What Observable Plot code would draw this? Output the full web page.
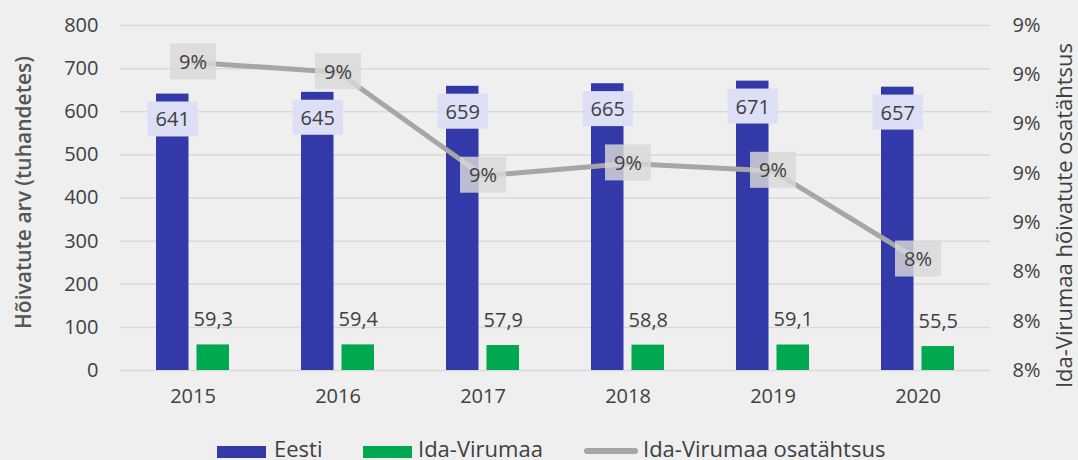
<!DOCTYPE html>
<html><head><meta charset="utf-8">
<script src="https://cdn.jsdelivr.net/npm/d3@7"></script>
<script src="https://cdn.jsdelivr.net/npm/@observablehq/plot@0.6"></script>
<style>
html,body{margin:0;padding:0;}
body{background:#efefef;font-family:"Open Sans",sans-serif;width:1078px;height:460px;overflow:hidden;position:relative;color:#404040;}
#chart svg{display:block;}
.lg{position:absolute;}
.lgt{position:absolute;font-size:22px;line-height:22px;top:437px;white-space:nowrap;color:#404040;}
</style></head><body>
<div id="chart"></div>
<div id="legend"></div>
<script>
const years = ["2015", "2016", "2017", "2018", "2019", "2020"];
const eesti = [641, 645, 659, 665, 671, 657];
const idaVirumaa = [59.3, 59.4, 57.9, 58.8, 59.1, 55.5];
const osatahtsus = [9.25, 9.21, 8.79, 8.84, 8.81, 8.45]; // %
const leftTicks = [0, 100, 200, 300, 400, 500, 600, 700, 800];
const rightTicks = [8.0, 8.2, 8.4, 8.6, 8.8, 9.0, 9.2, 9.4];
const seriesNames = ["Eesti", "Ida-Virumaa", "Ida-Virumaa osatähtsus"];
const colors = ["#3339a8", "#00a84f", "#a6a6a6"];
const leftTitle = "Hõivatute arv (tuhandetes)";
const rightTitle = "Ida-Virumaa hõivatute osatähtsus";

const leftMax = leftTicks[leftTicks.length - 1];
const rMin = rightTicks[0], rMax = rightTicks[rightTicks.length - 1];
const toLeft = p => (p - rMin) / (rMax - rMin) * leftMax;
const fromLeft = v => rMin + v / leftMax * (rMax - rMin);

const rows = years.map((y, i) => ({
  year: y, eesti: eesti[i], ida: idaVirumaa[i], share: osatahtsus[i], shareY: toLeft(osatahtsus[i])
}));

const font = '"Open Sans", sans-serif';
const chart = Plot.plot({
  width: 1078, height: 430,
  marginLeft: 120, marginRight: 88, marginTop: 25, marginBottom: 60,
  style: {background: "transparent", fontFamily: font, fontSize: "20px", color: "#404040", overflow: "visible"},
  x: {domain: years, type: "band", paddingInner: 0.497, paddingOuter: 0.2485, label: null},
  y: {domain: [0, leftMax], label: null},
  marks: [
    Plot.gridY(leftTicks, {stroke: "#d9d9d9", strokeOpacity: 1, strokeWidth: 1.5}),
    Plot.barY(rows, {x: "year", y: "eesti", fill: colors[0], insetRight: 40.5}),
    Plot.barY(rows, {x: "year", y: "ida", fill: colors[1], insetLeft: 40.5}),
    Plot.text(rows, {x: "year", y: "eesti", text: d => String(d.eesti), dx: -20.25, dy: 26, fill: "#404040", fontSize: 20, className: "lbl-eesti"}),
    Plot.text(rows, {x: "year", y: "ida", text: d => d.ida.toFixed(1).replace(".", ","), dx: 20.25, dy: -25, fill: "#404040", fontSize: 20}),
    Plot.line(rows, {x: "year", y: "shareY", stroke: colors[2], strokeWidth: 5}),
    Plot.text(rows, {x: "year", y: "shareY", text: d => Math.round(d.share) + "%", fill: "#404040", fontSize: 20, className: "lbl-share"}),
    Plot.axisX({tickSize: 0, tickPadding: 18, fontSize: 20, label: null}),
    Plot.axisY(leftTicks, {tickSize: 0, tickPadding: 22, fontSize: 20, label: null}),
    Plot.axisY(rightTicks.map(toLeft), {anchor: "right", tickSize: 0, tickPadding: 22, fontSize: 20, label: null,
      tickFormat: d => Math.round(fromLeft(d)) + "%"})
  ]
});
document.getElementById("chart").append(chart);

// label background boxes
const NS = "http://www.w3.org/2000/svg";
for (const [cls, fill, padX, h] of [["lbl-eesti", "#dcdff5", 8, 35], ["lbl-share", "rgba(217,217,217,0.82)", 9, 36]]) {
  chart.querySelectorAll(`g.${cls} text`).forEach(t => {
    const b = t.getBBox();
    const r = document.createElementNS(NS, "rect");
    r.setAttribute("x", b.x - padX);
    r.setAttribute("y", b.y + b.height / 2 - h / 2);
    r.setAttribute("width", b.width + 2 * padX);
    r.setAttribute("height", h);
    r.setAttribute("fill", fill);
    if (t.getAttribute("transform")) r.setAttribute("transform", t.getAttribute("transform"));
    t.parentNode.insertBefore(r, t);
  });
}

// axis titles
const svg = d3.select(chart);
svg.append("text").attr("transform", "translate(22.5,192.5) rotate(-90)")
  .attr("text-anchor", "middle").attr("dominant-baseline", "central")
  .attr("fill", "#555555").style("font-size", "21px").style("font-weight", "600").style("font-family", font).text(leftTitle);
svg.append("text").attr("transform", "translate(1063,215.5) rotate(-90)")
  .attr("text-anchor", "middle").attr("dominant-baseline", "central")
  .attr("fill", "#404040").style("font-size", "22px").style("font-family", font).text(rightTitle);

// legend
const lg = document.getElementById("legend");
const items = [
  {sw: {left: 217, top: 446, width: 49, height: 12}, tx: 274},
  {sw: {left: 363, top: 446, width: 49, height: 12}, tx: 418},
  {sw: {left: 584, top: 448, width: 54, height: 5.5, radius: 3}, tx: 643}
];
items.forEach((it, i) => {
  const s = document.createElement("div");
  s.className = "lg";
  Object.assign(s.style, {left: it.sw.left + "px", top: it.sw.top + "px", width: it.sw.width + "px", height: it.sw.height + "px", background: colors[i], borderRadius: (it.sw.radius || 0) + "px"});
  lg.append(s);
  const t = document.createElement("div");
  t.className = "lgt";
  t.style.left = it.tx + "px";
  t.textContent = seriesNames[i];
  lg.append(t);
});
</script>
</body></html>
